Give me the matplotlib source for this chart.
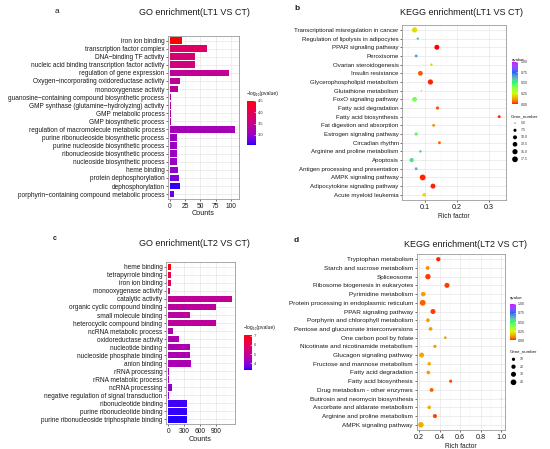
import numpy as np
import matplotlib
matplotlib.use('Agg')
import matplotlib.pyplot as plt
from matplotlib.colors import ListedColormap, Normalize, to_rgb
from matplotlib.cm import ScalarMappable

plt.rcParams['font.family'] = ['Liberation Sans', 'DejaVu Sans']

# ---------------- data ----------------
go1_terms = ["iron ion binding", "transcription factor complex", "DNA\u2212binding TF activity",
             "nucleic acid binding transcription factor activity", "regulation of gene expression",
             "Oxygen\u2212incorporating oxidoreductase activity", "monooxygenase activity",
             "guanosine\u2212containing compound biosynthetic process",
             "GMP synthase (glutamine\u2212hydrolyzing) activity", "GMP metabolic process",
             "GMP biosynthetic process", "regulation of macromolecule metabolic process",
             "purine ribonucleoside biosynthetic process", "purine nucleoside biosynthetic process",
             "ribonucleoside biosynthetic process", "nucleoside biosynthetic process", "heme binding",
             "protein dephosphorylation", "dephosphorylation",
             "porphyrin\u2212containing compound metabolic process"]
go1_counts = [20, 61, 41, 41, 97, 17, 14, 2, 2, 2, 2, 107, 12, 12, 12, 12, 14, 16, 17, 8]
go1_logp = [4.5, 3.85, 3.7, 3.65, 3.42, 3.42, 3.38, 3.3, 3.3, 3.3, 3.3, 3.15, 3.05, 3.05, 3.05, 3.05,
            2.95, 2.85, 2.6, 2.75]

go2_terms = ["heme binding", "tetrapyrrole binding", "iron ion binding", "monooxygenase activity",
             "catalytic activity", "organic cyclic compound binding", "small molecule binding",
             "heterocyclic compound binding", "ncRNA metabolic process", "oxidoreductase activity",
             "nucleotide binding", "nucleoside phosphate binding", "anion binding", "rRNA processing",
             "rRNA metabolic process", "ncRNA processing", "negative regulation of signal transduction",
             "ribonucleotide binding", "purine ribonucleotide binding",
             "purine ribonucleoside triphosphate binding"]
go2_counts = [50, 50, 50, 38, 1200, 894, 419, 894, 88, 200, 406, 406, 431, 19, 19, 69, 8, 362, 362, 362]
go2_logp = [7.05, 6.3, 5.9, 5.5, 4.9, 4.85, 4.8, 4.85, 4.6, 4.55, 4.5, 4.5, 4.5, 4.3, 4.3, 4.1, 3.9,
            3.4, 3.35, 3.3]

kegg1_terms = ["Transcriptional misregulation in cancer", "Regulation of lipolysis in adipocytes",
               "PPAR signaling pathway", "Peroxisome", "Ovarian steroidogenesis", "Insulin resistance",
               "Glycerophospholipid metabolism", "Glutathione metabolism", "FoxO signaling pathway",
               "Fatty acid degradation", "Fatty acid biosynthesis", "Fat digestion and absorption",
               "Estrogen signaling pathway", "Circadian rhythm", "Arginine and proline metabolism",
               "Apoptosis", "Antigen processing and presentation", "AMPK signaling pathway",
               "Adipocytokine signaling pathway", "Acute myeloid leukemia"]
kegg1_rich = [0.069, 0.079, 0.138, 0.074, 0.121, 0.087, 0.118, 0.090, 0.069, 0.140, 0.331, 0.128,
              0.074, 0.146, 0.087, 0.060, 0.074, 0.094, 0.126, 0.099]
kegg1_q = [0.2, 0.62, 0.0, 0.65, 0.18, 0.04, 0.01, 0.68, 0.42, 0.04, 0.01, 0.1, 0.45, 0.05, 0.63,
           0.55, 0.63, 0.01, 0.01, 0.2]
kegg1_genes = [15, 6, 14, 7, 6, 13, 15, 5, 13, 8, 7, 7, 8, 7, 6, 11, 7, 18, 14, 9]

kegg2_terms = ["Tryptophan metabolism", "Starch and sucrose metabolism", "Spliceosome",
               "Ribosome biogenesis in eukaryotes", "Pyrimidine metabolism",
               "Protein processing in endoplasmic reticulum", "PPAR signaling pathway",
               "Porphyrin and chlorophyll metabolism", "Pentose and glucuronate interconversions",
               "One carbon pool by folate", "Nicotinate and nicotinamide metabolism",
               "Glucagon signaling pathway", "Fructose and mannose metabolism", "Fatty acid degradation",
               "Fatty acid biosynthesis", "Drug metabolism - other enzymes",
               "Butirosin and neomycin biosynthesis", "Ascorbate and aldarate metabolism",
               "Arginine and proline metabolism", "AMPK signaling pathway"]
kegg2_rich = [0.388, 0.284, 0.287, 0.472, 0.242, 0.236, 0.336, 0.287, 0.313, 0.456, 0.355, 0.226,
              0.300, 0.291, 0.508, 0.323, 1.0, 0.300, 0.355, 0.219]
kegg2_q = [0.01, 0.1, 0.02, 0.02, 0.12, 0.05, 0.02, 0.12, 0.12, 0.12, 0.12, 0.13, 0.13, 0.12, 0.03,
           0.05, 0.12, 0.13, 0.03, 0.14]
kegg2_genes = [20, 15, 36, 30, 24, 42, 30, 14, 14, 6, 10, 30, 12, 14, 9, 16, 1, 12, 18, 38]

gene_breaks1 = [5.0, 7.5, 10.0, 12.5, 15.0, 17.5]
gene_breaks2 = [10, 20, 30, 40]

# ---------------- colour ramps (CIELAB like ggplot) ----------------
_M = np.array([[0.4124564, 0.3575761, 0.1804375],
               [0.2126729, 0.7151522, 0.0721750],
               [0.0193339, 0.1191920, 0.9503041]])
_Minv = np.linalg.inv(_M)
_WHITE = np.array([0.95047, 1.0, 1.08883])


def _rgb2lab(rgb):
    c = np.asarray(rgb, float)
    lin = np.where(c <= 0.04045, c / 12.92, ((c + 0.055) / 1.055) ** 2.4)
    xyz = _M @ lin / _WHITE
    f = np.where(xyz > 216 / 24389, np.cbrt(xyz), (24389 / 27 * xyz + 16) / 116)
    return np.array([116 * f[1] - 16, 500 * (f[0] - f[1]), 200 * (f[1] - f[2])])


def _lab2rgb(lab):
    L, a, b = lab
    fy = (L + 16) / 116
    f = np.array([fy + a / 500, fy, fy - b / 200])
    xyz = np.where(f ** 3 > 216 / 24389, f ** 3, (116 * f - 16) / (24389 / 27))
    lin = np.clip(_Minv @ (xyz * _WHITE), 0, 1)
    return np.clip(np.where(lin <= 0.0031308, 12.92 * lin, 1.055 * lin ** (1 / 2.4) - 0.055), 0, 1)


def lab_cmap(hexes, n=256):
    labs = [_rgb2lab(to_rgb(h)) for h in hexes]
    pos = np.linspace(0, 1, len(hexes))
    out = []
    for t in np.linspace(0, 1, n):
        k = min(int(np.searchsorted(pos, t, side='right')) - 1, len(hexes) - 2)
        u = (t - pos[k]) / (pos[k + 1] - pos[k])
        out.append(_lab2rgb(labs[k] * (1 - u) + labs[k + 1] * u))
    return ListedColormap(out)


p_cmap = lab_cmap(["#0000FF", "#FF0000"])
q_cmap = lab_cmap(["#FF0000", "#CCFF00", "#00FF66", "#0066FF", "#CC00FF"])

# ---------------- figure ----------------
W, H = 550, 449
fig = plt.figure(figsize=(5.5, 4.49), dpi=100)
fig.patch.set_facecolor('white')

TXT = '#1a1a1a'


def ax_px(l, t, r, b, **kw):
    return fig.add_axes([l / W, 1 - b / H, (r - l) / W, (b - t) / H], **kw)


def style_axes(ax):
    for s in ax.spines.values():
        s.set_color('#9a9a9a')
        s.set_linewidth(0.6)
    ax.set_facecolor('white')
    ax.tick_params(which='major', length=1.6, width=0.5, color='#333333', pad=1.0, labelcolor=TXT)
    ax.tick_params(which='minor', length=0)
    ax.grid(True, which='major', color='#E6E6E6', lw=0.5, zorder=0)
    ax.grid(True, which='minor', axis='x', color='#F2F2F2', lw=0.3, zorder=0)
    ax.set_axisbelow(True)


def bar_panel(box, terms, counts, logp, norm, xlim, xticks, xminor, ylab_fs, xt_fs, xl_fs):
    ax = ax_px(*box)
    n = len(terms)
    y = np.arange(n)[::-1] + 1
    ax.barh(y, counts, height=0.82, color=p_cmap(norm(np.array(logp))), zorder=3, linewidth=0)
    ax.set_ylim(0.4, n + 0.6)
    ax.set_yticks(y)
    ax.set_yticklabels(terms, fontsize=ylab_fs)
    ax.set_xlim(*xlim)
    ax.set_xticks(xticks)
    ax.set_xticks(xminor, minor=True)
    ax.tick_params(axis='x', labelsize=xt_fs)
    style_axes(ax)
    ax.set_xlabel('Counts', fontsize=xl_fs, color=TXT, labelpad=0.5)
    return ax


def dot_size(g, lo, hi, dmin=1.0, dmax=5.8):
    g = np.asarray(g, float)
    d = dmin + (dmax - dmin) * np.sqrt(np.clip((g - lo) / (hi - lo), 0, 1))
    return (d * 0.72) ** 2


def dot_panel(box, terms, rich, q, genes, lo, hi, xlim, xticks, xminor, ylab_fs, xt_fs, xl_fs):
    ax = ax_px(*box)
    n = len(terms)
    y = np.arange(n)[::-1] + 1
    ax.scatter(rich, y, s=dot_size(genes, lo, hi), c=q, cmap=q_cmap, norm=Normalize(0, 1),
               edgecolors='none', zorder=3)
    ax.set_ylim(0.4, n + 0.6)
    ax.set_yticks(y)
    ax.set_yticklabels(terms, fontsize=ylab_fs)
    ax.set_xlim(*xlim)
    ax.set_xticks(xticks)
    ax.set_xticklabels([('%g' % v) if v != 1.0 else '1.0' for v in xticks])
    ax.set_xticks(xminor, minor=True)
    ax.tick_params(axis='x', labelsize=xt_fs)
    style_axes(ax)
    ax.set_xlabel('Rich factor', fontsize=xl_fs, color=TXT, labelpad=1.5)
    return ax


def colorbar(box, norm, cmap, ticks, labels, fs=3.0):
    cax = ax_px(*box)
    cb = fig.colorbar(ScalarMappable(norm=norm, cmap=cmap), cax=cax)
    cb.outline.set_visible(False)
    cb.set_ticks(ticks)
    cb.set_ticklabels(labels)
    cax.tick_params(length=1.2, width=0.4, color='white', direction='in', pad=1.5,
                    labelsize=fs, labelcolor='#333333')
    return cax


# Panel a
norm_a = Normalize(2.56, 4.5)
bar_panel((168, 35.7, 238.7, 199), go1_terms, go1_counts, go1_logp, norm_a,
          (-2.5, 112.3), [0, 25, 50, 75, 100], [12.5, 37.5, 62.5, 87.5], 4.72, 4.8, 5.2)
colorbar((247.3, 100.7, 256, 145), norm_a, p_cmap, [3.0, 3.5, 4.0, 4.5], ['3.0', '3.5', '4.0', '4.5'])

# Panel c
norm_c = Normalize(3.25, 7.1)
bar_panel((166, 262, 235, 424.3), go2_terms, go2_counts, go2_logp, norm_c,
          (-40, 1258), [0, 300, 600, 900], [150, 450, 750, 1050], 4.7, 4.8, 5.2)
colorbar((244, 335, 251.7, 370), norm_c, p_cmap, [4, 5, 6, 7], ['4', '5', '6', '7'])

# Panel b
dot_panel((402.3, 24.7, 506, 200), kegg1_terms, kegg1_rich, kegg1_q, kegg1_genes, 5, 18,
          (0.031, 0.352), [0.1, 0.2, 0.3], [0.05, 0.15, 0.25], 4.4, 5.2, 4.8)
colorbar((511.7, 61.7, 518.3, 104), Normalize(0, 1), q_cmap, [0, 0.25, 0.5, 0.75, 1.0],
         ['0.00', '0.25', '0.50', '0.75', '1.00'], fs=2.6)

# Panel d
dot_panel((416.7, 254, 505, 430), kegg2_terms, kegg2_rich, kegg2_q, kegg2_genes, 1, 42,
          (0.178, 1.036), [0.2, 0.4, 0.6, 0.8, 1.0], [0.3, 0.5, 0.7, 0.9], 4.55, 5.2, 4.8)
colorbar((510.3, 303.7, 516, 340.3), Normalize(0, 1), q_cmap, [0, 0.25, 0.5, 0.75, 1.0],
         ['0.00', '0.25', '0.50', '0.75', '1.00'], fs=2.6)

# ---------------- overlay texts / size legends ----------------
ov = fig.add_axes([0, 0, 1, 1], zorder=10)
ov.set_xlim(0, W)
ov.set_ylim(H, 0)
ov.axis('off')
ov.patch.set_alpha(0)

ov.text(194, 12.3, 'GO enrichment(LT1 VS CT)', fontsize=6.5, ha='center', va='center', color=TXT)
ov.text(462, 12.3, 'KEGG enrichment(LT1 VS CT)', fontsize=6.5, ha='center', va='center', color=TXT)
ov.text(194, 243.3, 'GO enrichment(LT2 VS CT)', fontsize=6.5, ha='center', va='center', color=TXT)
ov.text(465, 244.3, 'KEGG enrichment(LT2 VS CT)', fontsize=6.5, ha='center', va='center', color=TXT)

ov.text(57, 11.5, 'a', fontsize=6, ha='center', va='center', color=TXT)
ov.text(297, 8, 'b', fontsize=6, ha='center', va='center', color=TXT, fontweight='bold')
ov.text(55, 239, 'c', fontsize=5, ha='center', va='center', color=TXT, fontweight='bold')
ov.text(296, 241, 'd', fontsize=6, ha='center', va='center', color=TXT, fontweight='bold')

ov.text(247, 93.5, '\u2212log\u2081\u2080(pvalue)', fontsize=3.6, ha='left', va='center', color=TXT)
ov.text(244, 328, '\u2212log\u2081\u2080(pvalue)', fontsize=3.6, ha='left', va='center', color=TXT)

ov.text(511.5, 59.5, 'qvalue', fontsize=3.2, ha='left', va='center', color=TXT)
ov.text(510.3, 298.5, 'qvalue', fontsize=3.2, ha='left', va='center', color=TXT)

ov.text(511, 116, 'Gene_number', fontsize=3.2, ha='left', va='center', color=TXT)
ys1 = [123, 130.3, 137.3, 144.3, 151.7, 159.3]
ov.scatter([515] * len(gene_breaks1), ys1, s=dot_size(gene_breaks1, 5, 18), color='black',
           edgecolors='none')
for yy, g in zip(ys1, gene_breaks1):
    ov.text(520.5, yy, '%.1f' % g, fontsize=2.6, ha='left', va='center', color='#333333')

ov.text(510, 351.7, 'Gene_number', fontsize=3.2, ha='left', va='center', color=TXT)
ys2 = [359.3, 366.7, 374.3, 382.3]
ov.scatter([513.5] * len(gene_breaks2), ys2, s=dot_size(gene_breaks2, 1, 42), color='black',
           edgecolors='none')
for yy, g in zip(ys2, gene_breaks2):
    ov.text(519.5, yy, '%d' % g, fontsize=2.6, ha='left', va='center', color='#333333')

fig.savefig('out.png', dpi=100, facecolor='white')
